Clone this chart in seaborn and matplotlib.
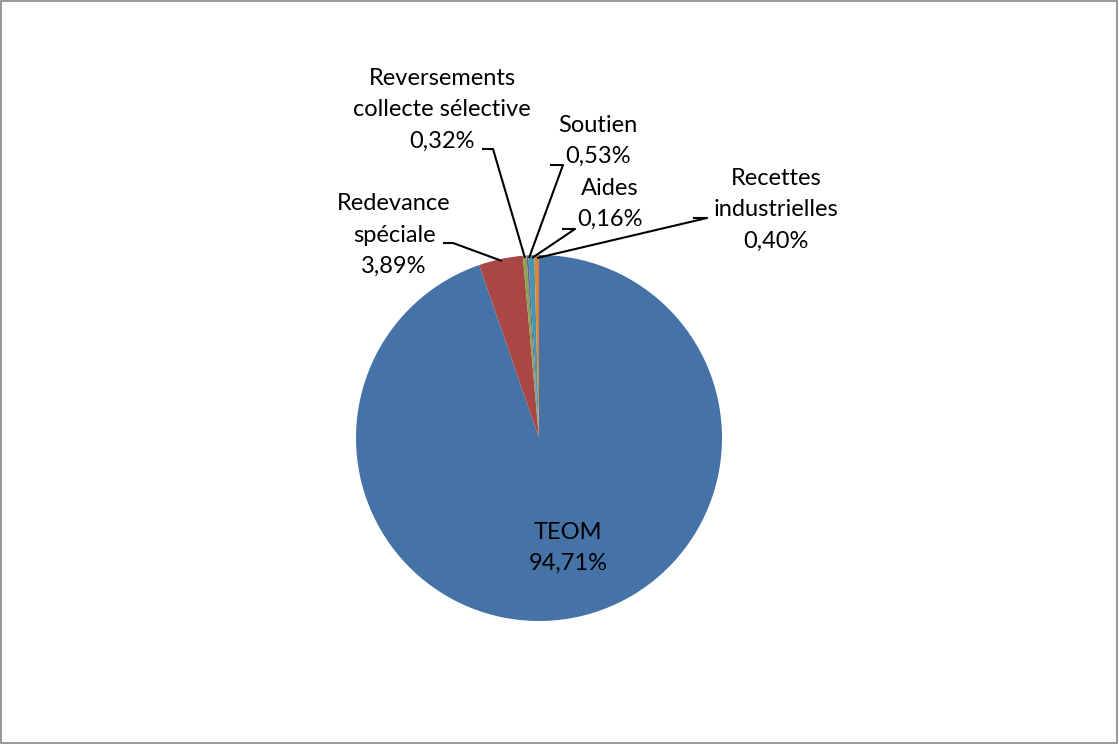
import matplotlib.pyplot as plt
import matplotlib.patches as mpatches
import seaborn as sns

# données du graphique (part des recettes)
categories = ['TEOM', 'Redevance spéciale', 'Reversements collecte sélective',
              'Aides', 'Soutien', 'Recettes industrielles']
values = [94.71, 3.89, 0.32, 0.16, 0.53, 0.40]
label_texts = ['TEOM\n94,71%', 'Redevance\nspéciale\n3,89%',
               'Reversements\ncollecte sélective\n0,32%', 'Aides\n0,16%',
               'Soutien\n0,53%', 'Recettes\nindustrielles\n0,40%']
colors = ['#4572A7', '#AA4643', '#89A54E', '#71588F', '#4198AF', '#DB843D']

# position des étiquettes (pixels, origine en haut à gauche) et lignes de rappel
label_pos = [(568, 548), (394, 235), (442, 110), (610, 204), (598, 141), (776, 210)]
leaders = [None,
           [(443, 243), (453, 243), (502, 261)],
           [(482, 149), (493, 149), (525, 258)],
           [(562, 229), (575, 229), (532, 258)],
           [(550, 165), (563, 165), (529, 258)],
           [(693, 218), (707, 218), (537, 258)]]

W, H = 1119, 744
sns.set_theme(style='white')
plt.rcParams['font.family'] = ['Lato', 'DejaVu Sans']

fig = plt.figure(figsize=(W / 100, H / 100), dpi=100)
ax = fig.add_axes([0, 0, 1, 1])

ax.pie(values, colors=colors, startangle=90, counterclock=False,
       center=(539, H - 438), radius=183, frame=True,
       wedgeprops=dict(linewidth=0))
ax.set_xlim(0, W)
ax.set_ylim(0, H)
ax.axis('off')

for txt, (x, y), lead in zip(label_texts, label_pos, leaders):
    ax.text(x, H - y, txt, ha='center', va='center', fontsize=17,
            linespacing=1.6, color='#000000')
    if lead:
        xs = [p[0] for p in lead]
        ys = [H - p[1] for p in lead]
        ax.plot(xs, ys, color='black', linewidth=1.5, solid_capstyle='butt')

# bordure de la zone de graphique
fig.patches.append(mpatches.Rectangle((0.001, 0.001), 0.997, 0.997, transform=fig.transFigure,
                                      fill=False, edgecolor='#868686', linewidth=1.2))

fig.savefig('out.png', dpi=100)
